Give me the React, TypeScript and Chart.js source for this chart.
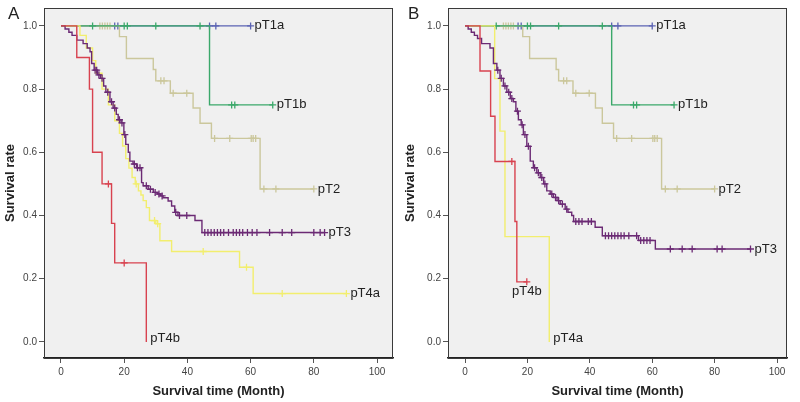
import React, { useEffect, useRef } from "react";
import { Chart, registerables } from "chart.js";
Chart.register(...registerables);

type Pt = [number, number];

// ---------- data (month, survival rate after step) ----------
const xTickValues = [0, 20, 40, 60, 80, 100];
const yTickValues = [0, 0.2, 0.4, 0.6, 0.8, 1.0];

// Shared between both panels
const pT1a_steps: Pt[] = [[0, 1], [60, 1]];
const pT1a_censors = [17, 18, 47, 49, 60];
const pT1b_steps: Pt[] = [[0, 1], [47, 0.75], [67, 0.75]];
const pT1b_censors = [10, 20, 21, 30, 44, 54, 55, 67];
const pT2_steps: Pt[] = [[0, 1], [18.5, 0.966], [20.7, 0.897], [29.2, 0.862], [30, 0.826], [34.6, 0.787], [41.8, 0.74], [44, 0.692], [47.6, 0.644], [63, 0.484], [80, 0.484]];
const pT2_censors = [12.3, 13.1, 13.9, 14.7, 15.5, 31.6, 32.6, 35.5, 39.8, 48.6, 53.4, 60.2, 60.8, 61.6, 64.2, 68, 80];

// Panel A
const A_pT3_steps: Pt[] = [[0, 1], [1.3, 0.99], [2.5, 0.98], [3.5, 0.97], [5, 0.955], [7, 0.944], [8.3, 0.93], [9.2, 0.918], [9.7, 0.881], [10.5, 0.86], [11.5, 0.845], [12.5, 0.834], [13.5, 0.81], [14.2, 0.79], [15.5, 0.76], [16.5, 0.74], [17.5, 0.72], [18.1, 0.703], [19, 0.693], [19.9, 0.656], [20.5, 0.625], [21.3, 0.6], [21.8, 0.572], [22.8, 0.563], [23.9, 0.551], [25.5, 0.504], [26, 0.494], [27.6, 0.483], [29.2, 0.473], [30.5, 0.468], [31.5, 0.462], [32.3, 0.456], [33.9, 0.446], [35, 0.43], [36, 0.41], [37, 0.4], [42.4, 0.384], [44.6, 0.346], [83.4, 0.346]];
const A_pT3_censors = [10.8, 11.3, 12.0, 13.0, 14.8, 16.0, 17.0, 18.5, 19.3, 20.2, 23.2, 24.2, 25.0, 27.0, 28.3, 29.8, 31.0, 32.0, 36.3, 37.5, 39.8, 45.5, 46.5, 47.5, 48.5, 49.5, 50.5, 51.5, 53.0, 54.5, 55.5, 56.5, 57.5, 59.0, 60.5, 62.0, 66.0, 70.0, 73.0, 80.0, 82.0, 83.4];
const A_pT4a_steps: Pt[] = [[0, 1], [6, 0.97], [8, 0.93], [10, 0.89], [11, 0.85], [13, 0.8], [15, 0.75], [17, 0.7], [18.5, 0.66], [19.5, 0.62], [20.5, 0.58], [21.5, 0.55], [22.5, 0.52], [23.5, 0.5], [24.5, 0.478], [25.3, 0.465], [26, 0.447], [27, 0.425], [28, 0.384], [30, 0.374], [31.3, 0.32], [35, 0.286], [56.5, 0.236], [60.8, 0.153], [90.3, 0.153]];
const A_pT4a_censors = [23.8, 29.6, 30.6, 45, 58.7, 70, 90.3];
const A_pT4b_steps: Pt[] = [[0, 1], [5, 0.9], [9, 0.8], [10, 0.6], [13, 0.5], [16, 0.375], [17, 0.25], [27, 0]];
const A_pT4b_censors = [15, 20];

// Panel B
const B_pT3_steps: Pt[] = [[0, 1], [1, 0.99], [2, 0.98], [3, 0.97], [4, 0.96], [5.3, 0.944], [8, 0.93], [9.1, 0.881], [10.2, 0.86], [11.2, 0.834], [12.3, 0.81], [13.4, 0.79], [14.5, 0.77], [15.5, 0.76], [16.3, 0.73], [17.1, 0.703], [18, 0.687], [18.7, 0.656], [19.8, 0.619], [20.9, 0.572], [21.9, 0.551], [23, 0.535], [24.1, 0.52], [25.2, 0.5], [26.2, 0.478], [27.3, 0.468], [28.3, 0.457], [29.5, 0.447], [30.5, 0.436], [32.1, 0.42], [33, 0.41], [34.2, 0.4], [34.8, 0.381], [41.7, 0.363], [44, 0.336], [55.6, 0.321], [61, 0.294], [91.5, 0.294]];
const B_pT3_censors = [10.5, 11.6, 12.8, 14, 15, 16.8, 18.3, 19.2, 20.3, 22.3, 23.5, 24.6, 25.6, 27.8, 29, 30, 31.2, 32.6, 35.5, 36.5, 37.5, 39.5, 40.5, 45, 46, 47, 48, 49, 50, 51, 52.5, 55, 56.3, 57.3, 58.3, 59.3, 65.8, 69.6, 72.8, 80.8, 82.4, 91.5];
const B_pT4a_steps: Pt[] = [[0, 1], [9.5, 0.833], [11.2, 0.667], [12.8, 0.333], [27, 0]];
const B_pT4a_censors: number[] = [];
const B_pT4b_steps: Pt[] = [[0, 1], [4.8, 0.857], [8.2, 0.714], [9.6, 0.571], [16, 0.381], [16.6, 0.19], [19.8, 0.19]];
const B_pT4b_censors = [15, 19.8];

// ---------- styles ----------
const COLORS: Record<string, string> = {
  pT1a: "#5b63b3",
  pT1b: "#3ba86a",
  pT2: "#cbc79c",
  pT3: "#6b2a74",
  pT4a: "#f2ee6e",
  pT4b: "#d8424f",
};
const FONT = "'Liberation Sans', Arial, sans-serif";
const TICK_FONT = "'Liberation Sans Narrow', 'Liberation Sans', Arial, sans-serif";

interface Series {
  name: string;
  steps: Pt[];
  censors: number[];
  label: "right" | "below";
}

function stepAt(steps: Pt[], t: number): number {
  let v = steps[0][1];
  for (const [x, y] of steps) {
    if (x <= t) v = y;
    else break;
  }
  return v;
}

interface PanelSpec {
  letter: string;
  series: Series[]; // first = drawn on top
  xMin: number;
  xMax: number;
  yAxisWidth: number;
  padRight: number;
}

const panelA: PanelSpec = {
  letter: "A",
  xMin: -5.37,
  xMax: 105.05,
  yAxisWidth: 44,
  padRight: 7,
  series: [
    { name: "pT4b", steps: A_pT4b_steps, censors: A_pT4b_censors, label: "right" },
    { name: "pT3", steps: A_pT3_steps, censors: A_pT3_censors, label: "right" },
    { name: "pT4a", steps: A_pT4a_steps, censors: A_pT4a_censors, label: "right" },
    { name: "pT1b", steps: pT1b_steps, censors: pT1b_censors, label: "right" },
    { name: "pT2", steps: pT2_steps, censors: pT2_censors, label: "right" },
    { name: "pT1a", steps: pT1a_steps, censors: pT1a_censors, label: "right" },
  ],
};

const panelB: PanelSpec = {
  letter: "B",
  xMin: -5.46,
  xMax: 103.2,
  yAxisWidth: 48,
  padRight: 13,
  series: [
    { name: "pT4b", steps: B_pT4b_steps, censors: B_pT4b_censors, label: "below" },
    { name: "pT3", steps: B_pT3_steps, censors: B_pT3_censors, label: "right" },
    { name: "pT4a", steps: B_pT4a_steps, censors: B_pT4a_censors, label: "right" },
    { name: "pT1b", steps: pT1b_steps, censors: pT1b_censors, label: "right" },
    { name: "pT2", steps: pT2_steps, censors: pT2_censors, label: "right" },
    { name: "pT1a", steps: pT1a_steps, censors: pT1a_censors, label: "right" },
  ],
};

function makeChart(canvas: HTMLCanvasElement, spec: PanelSpec) {
  const datasets: any[] = [];
  for (const s of spec.series) {
    datasets.push({
      type: "scatter",
      label: s.name + " censored",
      data: s.censors.map((t) => ({ x: t, y: stepAt(s.steps, t) })),
      pointStyle: "cross",
      pointRadius: 3.5,
      pointBorderWidth: 1.3,
      borderColor: COLORS[s.name],
      backgroundColor: COLORS[s.name],
      showLine: false,
    });
    datasets.push({
      type: "line",
      label: s.name,
      data: s.steps.map(([x, y]) => ({ x, y })),
      stepped: "before",
      borderColor: COLORS[s.name],
      borderWidth: 1.4,
      pointRadius: 0,
      fill: false,
    });
  }

  const framePlugin = {
    id: "frame",
    beforeDraw(chart: any) {
      const { ctx, chartArea: a } = chart;
      ctx.save();
      ctx.fillStyle = "#ffffff";
      ctx.fillRect(0, 0, chart.width, chart.height);
      ctx.fillStyle = "#f0f0f0";
      ctx.fillRect(a.left, a.top, a.right - a.left, a.bottom - a.top);
      ctx.restore();
    },
    afterDraw(chart: any) {
      const { ctx, chartArea: a } = chart;
      ctx.save();
      ctx.strokeStyle = "#3a3a3a";
      ctx.lineWidth = 1;
      ctx.strokeRect(a.left + 0.5, a.top + 0.5, a.right - a.left - 1, a.bottom - a.top);
      ctx.fillStyle = "#222";
      ctx.font = `17px ${FONT}`;
      ctx.textBaseline = "middle";
      ctx.textAlign = "left";
      ctx.fillText(spec.letter, 8, 14);
      ctx.restore();
    },
    afterDatasetsDraw(chart: any) {
      const { ctx } = chart;
      const xs = chart.scales.x;
      const ys = chart.scales.y;
      ctx.save();
      ctx.fillStyle = "#222";
      ctx.font = `13px ${FONT}`;
      for (const s of spec.series) {
        const [tx, ty] = s.steps[s.steps.length - 1];
        const px = xs.getPixelForValue(tx);
        const py = ys.getPixelForValue(ty);
        if (s.label === "right") {
          ctx.textAlign = "left";
          ctx.textBaseline = "middle";
          ctx.fillText(s.name, px + 4, ty === 0 ? py - 3 : py);
        } else {
          ctx.textAlign = "center";
          ctx.textBaseline = "top";
          ctx.fillText(s.name, px, py + 3);
        }
      }
      ctx.restore();
    },
  };

  return new Chart(canvas, {
    type: "line",
    data: { datasets },
    options: {
      animation: false,
      responsive: false,
      devicePixelRatio: 1,
      layout: { padding: { left: 0, top: 6, right: spec.padRight, bottom: 0 } },
      plugins: { legend: { display: false }, tooltip: { enabled: false } },
      scales: {
        x: {
          type: "linear",
          min: spec.xMin,
          max: spec.xMax,
          afterBuildTicks: (s: any) => {
            s.ticks = xTickValues.map((v) => ({ value: v }));
          },
          afterFit: (s: any) => {
            s.height = 44;
          },
          ticks: {
            font: { size: 10, family: TICK_FONT },
            color: "#444",
            padding: 3,
            maxRotation: 0,
            callback: (v: any) => String(v),
          },
          grid: { drawOnChartArea: false, drawTicks: true, tickLength: 5, color: "#555" },
          border: { display: true, color: "#222", width: 1.5 },
          title: {
            display: true,
            text: "Survival time (Month)",
            color: "#222",
            font: { size: 13, weight: "bold", family: FONT },
            padding: { top: 0, bottom: 3 },
          },
        },
        y: {
          type: "linear",
          min: -0.051,
          max: 1.0566,
          afterBuildTicks: (s: any) => {
            s.ticks = yTickValues.map((v) => ({ value: v }));
          },
          afterFit: (s: any) => {
            s.width = spec.yAxisWidth;
          },
          ticks: {
            font: { size: 10, family: TICK_FONT },
            color: "#444",
            padding: 2,
            callback: (v: any) => Number(v).toFixed(1),
          },
          grid: { drawOnChartArea: false, drawTicks: true, tickLength: 5, color: "#555" },
          border: { display: true, color: "#333", width: 1 },
          title: {
            display: true,
            text: "Survival rate",
            color: "#222",
            font: { size: 13, weight: "bold", family: FONT },
            padding: { top: 3, bottom: 0 },
          },
        },
      },
    } as any,
    plugins: [framePlugin],
  } as any);
}

function Panel({ spec, left }: { spec: PanelSpec; left: number }) {
  const ref = useRef<HTMLCanvasElement | null>(null);
  useEffect(() => {
    if (!ref.current) return;
    const chart = makeChart(ref.current, spec);
    return () => chart.destroy();
  }, [spec]);
  return (
    <canvas
      ref={ref}
      width={400}
      height={402}
      style={{ position: "absolute", left, top: 0, width: 400, height: 402, display: "block" }}
    />
  );
}

export default function App() {
  return (
    <div style={{ position: "fixed", left: 0, top: 0, width: 800, height: 402, background: "#fff" }}>
      <Panel spec={panelA} left={0} />
      <Panel spec={panelB} left={400} />
    </div>
  );
}
